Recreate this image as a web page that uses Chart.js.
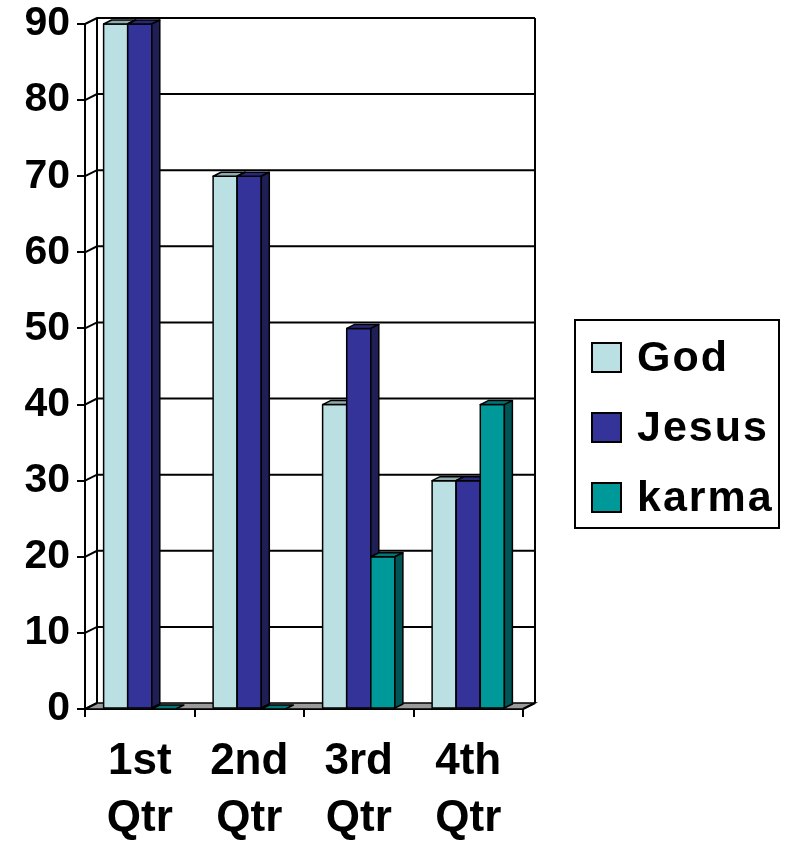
<!DOCTYPE html>
<html>
<head>
<meta charset="utf-8">
<script src="https://cdn.jsdelivr.net/npm/chart.js@4/dist/chart.umd.min.js"></script>
<style>
  html, body { margin: 0; padding: 0; background: #fff; }
</style>
</head>
<body>
<canvas id="myChart" width="787" height="842"></canvas>
<script>
// ------------------ DATA ------------------ //
const categories = [["1st", "Qtr"], ["2nd", "Qtr"], ["3rd", "Qtr"], ["4th", "Qtr"]];
const seriesNames = ["God", "Jesus", "karma"];
const godValues = [90, 70, 40, 30];
const jesusValues = [90, 70, 50, 30];
const karmaValues = [0, 0, 20, 40];
const yTicks = [0, 10, 20, 30, 40, 50, 60, 70, 80, 90];

const frontColors = ["#bbe0e3", "#333399", "#009999"];
const topColors = ["#8fabad", "#28287a", "#007878"];
const sideColors = ["#8aa6a8", "#1f1f55", "#005656"];

const FONT = "'Liberation Sans', Arial, sans-serif";
// 3d depth of the walls and of the bars
const WALL_DX = 12, WALL_DY = -6;
const BAR_DX = 8, BAR_DY = -4;

// ------------------ 3D WALLS ------------------ //
const wallsPlugin = {
  id: "walls",
  beforeDatasetsDraw(chart) {
    const ctx = chart.ctx;
    const { left, right, bottom } = chart.chartArea;
    const y = chart.scales.y;
    const top = y.getPixelForValue(90);
    ctx.save();
    ctx.strokeStyle = "#000";
    ctx.lineWidth = 2;

    // floor
    ctx.beginPath();
    ctx.moveTo(left, bottom);
    ctx.lineTo(right, bottom);
    ctx.lineTo(right + WALL_DX, bottom + WALL_DY);
    ctx.lineTo(left + WALL_DX, bottom + WALL_DY);
    ctx.closePath();
    ctx.fillStyle = "#9a9a9a";
    ctx.fill();
    ctx.lineWidth = 1.5;
    ctx.stroke();
    ctx.lineWidth = 2;

    // back wall grid + side wall connectors
    yTicks.forEach(v => {
      const py = y.getPixelForValue(v);
      ctx.beginPath();
      ctx.moveTo(left, py);
      ctx.lineTo(left + WALL_DX, py + WALL_DY);
      if (v > 0) ctx.lineTo(right + WALL_DX, py + WALL_DY);
      ctx.stroke();
    });

    // wall edges
    ctx.beginPath();
    ctx.moveTo(left + WALL_DX, top + WALL_DY);
    ctx.lineTo(left + WALL_DX, bottom + WALL_DY);
    ctx.moveTo(right + WALL_DX, top + WALL_DY);
    ctx.lineTo(right + WALL_DX, bottom + WALL_DY);
    ctx.moveTo(right, bottom);
    ctx.lineTo(right + WALL_DX, bottom + WALL_DY);
    ctx.stroke();
    ctx.restore();
  }
};

// ------------------ 3D BARS ------------------ //
// redraw every bar left to right so each side face sits behind the next bar
const bars3dPlugin = {
  id: "bars3d",
  afterDatasetsDraw(chart) {
    const ctx = chart.ctx;
    ctx.save();
    ctx.strokeStyle = "#000";
    ctx.lineWidth = 1.5;
    ctx.lineJoin = "round";
    chart.data.datasets.forEach((ds, i) => {
      chart.getDatasetMeta(i).data.forEach(bar => {
        const p = bar.getProps(["x", "y", "base", "width"], true);
        const l = p.x - p.width / 2, r = p.x + p.width / 2;
        // front
        ctx.fillStyle = frontColors[i];
        ctx.fillRect(l, p.y, p.width, p.base - p.y);
        ctx.strokeRect(l, p.y, p.width, p.base - p.y);
        // top face
        ctx.beginPath();
        ctx.moveTo(l, p.y);
        ctx.lineTo(l + BAR_DX, p.y + BAR_DY);
        ctx.lineTo(r + BAR_DX, p.y + BAR_DY);
        ctx.lineTo(r, p.y);
        ctx.closePath();
        ctx.fillStyle = topColors[i];
        ctx.fill();
        ctx.stroke();
        // side face
        if (p.base - p.y > 0.5) {
          ctx.beginPath();
          ctx.moveTo(r, p.y);
          ctx.lineTo(r + BAR_DX, p.y + BAR_DY);
          ctx.lineTo(r + BAR_DX, p.base + BAR_DY);
          ctx.lineTo(r, p.base);
          ctx.closePath();
          ctx.fillStyle = sideColors[i];
          ctx.fill();
          ctx.stroke();
        }
      });
    });
    ctx.restore();
  }
};

// ------------------ LEGEND ------------------ //
const boxLegendPlugin = {
  id: "boxLegend",
  afterDraw(chart) {
    const ctx = chart.ctx;
    const bx = 575, by = 320, bw = 204, bh = 208;
    ctx.save();
    ctx.strokeStyle = "#000";
    ctx.lineWidth = 2;
    ctx.strokeRect(bx, by, bw, bh);
    ctx.font = "bold 43px " + FONT;
    ctx.letterSpacing = "2px";
    ctx.textBaseline = "middle";
    chart.data.datasets.forEach((ds, k) => {
      const sy = 343 + k * 70;
      ctx.fillStyle = ds.backgroundColor;
      ctx.fillRect(592, sy, 29, 29);
      ctx.strokeRect(592, sy, 29, 29);
      ctx.fillStyle = "#000";
      ctx.fillText(ds.label, 637, sy + 16);
    });
    ctx.restore();
  }
};

// ------------------ CHART ------------------ //
const seriesValues = [godValues, jesusValues, karmaValues];
const ctx = document.getElementById("myChart").getContext("2d");
const chart = new Chart(ctx, {
  type: "bar",
  data: {
    labels: categories,
    datasets: seriesNames.map((name, i) => ({
      label: name,
      data: seriesValues[i],
      backgroundColor: frontColors[i],
      borderWidth: 0,
      categoryPercentage: 0.66,
      barPercentage: 1
    }))
  },
  options: {
    responsive: false,
    animation: false,
    devicePixelRatio: 1,
    layout: { padding: { top: 24, right: 264, bottom: 0, left: 0 } },
    plugins: { legend: { display: false }, tooltip: { enabled: false } },
    scales: {
      x: {
        afterFit: s => { s.height = 133; s.paddingLeft = 0; s.paddingRight = 0; },
        grid: { drawOnChartArea: false, tickLength: 8, color: "#000", lineWidth: 2, offset: true },
        border: { display: true, color: "#000", width: 2 },
        ticks: {
          color: "#000",
          font: { family: FONT, weight: "bold", size: 44, lineHeight: 1.3 },
          padding: 16,
          maxRotation: 0,
          autoSkip: false
        }
      },
      y: {
        min: 0,
        max: 90,
        afterFit: s => { s.width = 85; s.paddingTop = 0; s.paddingBottom = 0; },
        afterBuildTicks: s => { s.ticks = yTicks.map(v => ({ value: v })); },
        grid: { drawOnChartArea: false, tickLength: 8, color: "#000", lineWidth: 2 },
        border: { display: true, color: "#000", width: 2 },
        ticks: {
          color: "#000",
          font: { family: FONT, weight: "bold", size: 41, lineHeight: 1 },
          padding: 7
        }
      }
    }
  },
  plugins: [wallsPlugin, bars3dPlugin, boxLegendPlugin]
});
</script>
</body>
</html>
